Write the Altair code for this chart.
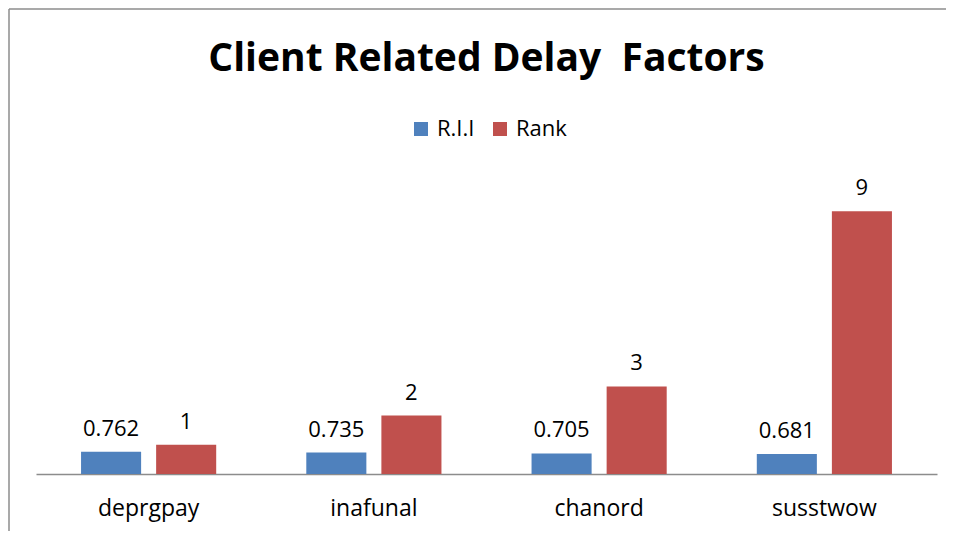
import altair as alt
import pandas as pd

categories = ["deprgpay", "inafunal", "chanord", "susstwow"]
rii = [0.762, 0.735, 0.705, 0.681]
rank = [1, 2, 3, 9]
series = ["R.I.I", "Rank"]
colors = ["#4F81BD", "#C0504D"]

rows = []
for c, a, b in zip(categories, rii, rank):
    rows.append({"cat": c, "series": "R.I.I", "value": a, "label": f"{a:g}"})
    rows.append({"cat": c, "series": "Rank", "value": b, "label": f"{b:g}"})
df = pd.DataFrame(rows)

FONT = "Open Sans"
W, H = 901, 292

xenc = alt.X("cat:N", sort=categories, title=None,
             scale=alt.Scale(paddingInner=0, paddingOuter=0),
             axis=alt.Axis(labelAngle=0, labelFontSize=23, labelColor="#000000",
                           labelFont=FONT, ticks=False, domainColor="#8c8c8c",
                           domainWidth=1.5, labelPadding=23))
xoff = alt.XOffset("series:N", sort=series,
                   scale=alt.Scale(paddingInner=0.2, paddingOuter=0.6))
yenc = alt.Y("value:Q", scale=alt.Scale(domain=[0, 10], nice=False), axis=None)

base = alt.Chart(df)

bars = base.mark_bar().encode(
    x=xenc, xOffset=xoff, y=yenc,
    color=alt.Color("series:N", sort=series,
                    scale=alt.Scale(domain=series, range=colors),
                    legend=alt.Legend(title=None, orient="none", legendX=374, legendY=-64,
                                      direction="horizontal", symbolType="square",
                                      symbolSize=196, symbolStrokeWidth=0,
                                      labelFontSize=22, labelFont=FONT,
                                      labelColor="#000000", columnPadding=14,
                                      labelOffset=5, padding=0)),
)

labels = base.mark_text(font=FONT, fontSize=22, color="#000000",
                        baseline="alphabetic", dy=-16).encode(
    x=xenc, xOffset=xoff, y=yenc, text="label:N")

frame_data = alt.Data(values=[{"k": 1}])
left_line = alt.Chart(frame_data).mark_rule(color="#8c8c8c", strokeWidth=1.5).encode(
    x=alt.value(-27), y=alt.value(-173), y2=alt.value(349))
top_line = alt.Chart(frame_data).mark_rule(color="#8c8c8c", strokeWidth=1.5).encode(
    x=alt.value(-27), x2=alt.value(910), y=alt.value(-173))

chart = alt.layer(bars, labels, left_line, top_line).properties(
    width=W, height=H,
    background="white",
    autosize=alt.AutoSizeParams(type="none"),
    padding={"left": 28, "top": 174, "right": 9, "bottom": 57},
    title=alt.TitleParams("Client Related Delay\u00a0 Factors", font=FONT,
                          fontSize=39, fontWeight="bold", color="#000000",
                          anchor="middle", offset=-71),
).configure_view(stroke="transparent", strokeWidth=0)

chart.save("out.html", embed_options={"renderer": "svg", "actions": False})
